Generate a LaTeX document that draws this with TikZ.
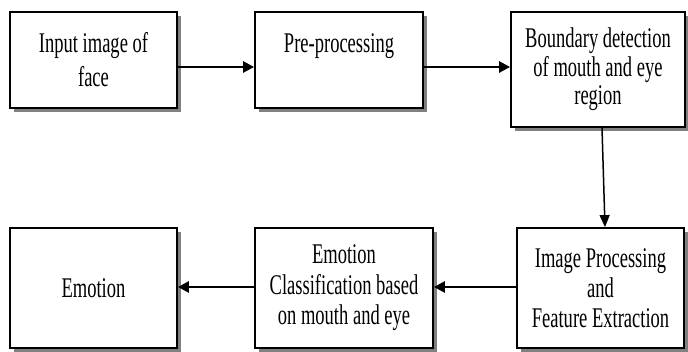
\documentclass[tikz,border=0pt]{standalone}
\usepackage{fontspec}
\setmainfont{Liberation Serif}[FakeStretch=0.65]
\usetikzlibrary{arrows.meta,shadows}
\begin{document}
\begin{tikzpicture}[x=1pt,y=-1pt,
  blk/.style={draw=black,line width=1.8pt,fill=white,align=center,inner sep=0pt,
    font=\fontsize{28.5}{30}\selectfont,
    drop shadow={shadow xshift=4pt,shadow yshift=-4pt,fill=black!50,opacity=1}},
  arr/.style={line width=2.6pt,-{Triangle[length=11pt,width=11pt]}},
  varr/.style={line width=1.5pt,-{Triangle[length=12pt,width=10pt]}}]
\useasboundingbox (0,0) rectangle (688,352);
\node[blk,minimum width=167pt,minimum height=96pt,font=\fontsize{28.5}{34}\selectfont] (b1) at (93.5,60) {Input image of\\face};
\node[blk,minimum width=168pt,minimum height=96pt,font=\fontsize{28.5}{34}\selectfont] (b2) at (339,60) {Pre-processing\\~};
\node[blk,minimum width=174pt,minimum height=115pt,font=\fontsize{28.5}{28.5}\selectfont] (b3) at (598,69.5) {Boundary detection\\of mouth and eye\\region};
\node[blk,minimum width=167pt,minimum height=120pt] (b4) at (93.5,288) {Emotion};
\node[blk,minimum width=178pt,minimum height=120pt,font=\fontsize{28.5}{30.5}\selectfont] (b5) at (344,288) {Emotion\\Classification based\\on mouth and eye};
\node[blk,minimum width=167pt,minimum height=120pt] (b6) at (600.5,288) {Image Processing\\and\\Feature Extraction};
\draw[arr] ([yshift=-7pt]b1.east) -- ([yshift=-7pt]b1.east -| b2.west);
\draw[arr] ([yshift=-7pt]b2.east) -- ([yshift=-7pt]b2.east -| b3.west);
\draw[varr] ([xshift=4pt]b3.south) -- ([xshift=4.5pt]b6.north);
\draw[arr] ([yshift=1pt]b6.west) -- ([yshift=1pt]b6.west -| b5.east);
\draw[arr] ([yshift=1pt]b5.west) -- ([yshift=1pt]b5.west -| b4.east);
\end{tikzpicture}
\end{document}
